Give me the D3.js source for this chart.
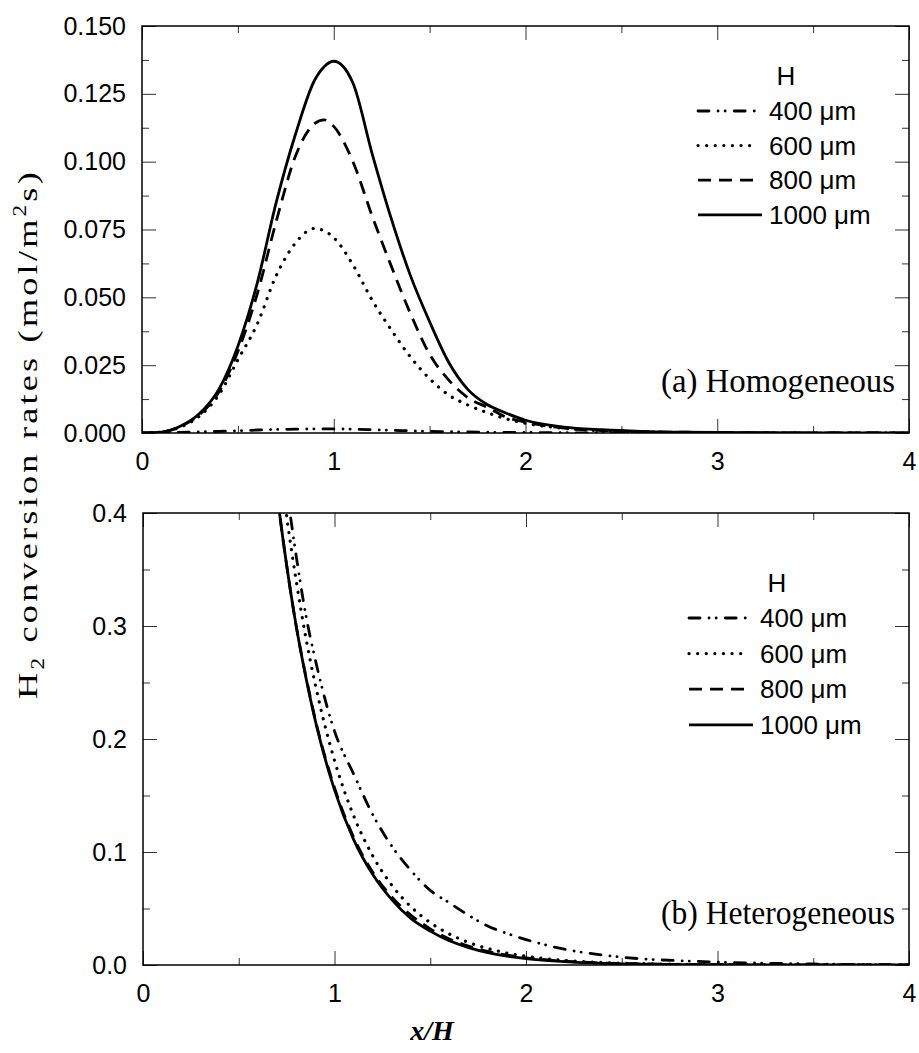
<!DOCTYPE html>
<html>
<head>
<meta charset="utf-8">
<script src="https://cdn.jsdelivr.net/npm/d3@7"></script>
<style>
  body { margin: 0; background: #fff; }
  svg { display: block; }
  .tick text { font-family: "Liberation Sans", Arial, sans-serif; font-size: 25px; fill: #000; }
  .tick line { stroke: #333; stroke-width: 1; }
  .domain { display: none; }
</style>
</head>
<body>
<svg id="chart" width="919" height="1053"></svg>
<script>
// sizes H (um) and their line styles
var sizes = ["400", "600", "800", "1000"];

// (a) homogeneous
var xTop = [0, 0.1, 0.2, 0.3, 0.4, 0.5, 0.6, 0.7, 0.8, 0.9, 0.95, 1.0, 1.1, 1.2, 1.3, 1.4, 1.5, 1.6, 1.7, 1.8, 1.9, 2.0, 2.2, 2.4, 2.6, 2.8, 3.0, 3.5, 4.0];
var homo400  = [0, 0.00005, 0.0002, 0.0004, 0.0006, 0.0008, 0.0011, 0.0013, 0.0014, 0.0015, 0.0015, 0.0015, 0.0014, 0.0012, 0.0010, 0.0008, 0.0006, 0.0005, 0.0004, 0.0003, 0.0002, 0.0002, 0.0001, 0.00005, 0, 0, 0, 0, 0];
var homo600  = [0, 0.0003, 0.0022, 0.0062, 0.014, 0.027, 0.040, 0.058, 0.070, 0.0754, 0.0745, 0.072, 0.062, 0.049, 0.038, 0.028, 0.020, 0.0140, 0.0103, 0.0075, 0.0052, 0.0036, 0.0017, 0.0008, 0.0004, 0.0002, 0.0001, 0, 0];
var homo800  = [0, 0.0003, 0.0024, 0.0068, 0.015, 0.030, 0.051, 0.078, 0.102, 0.114, 0.1154, 0.113, 0.100, 0.080, 0.0615, 0.044, 0.029, 0.0195, 0.013, 0.0095, 0.0058, 0.0040, 0.0018, 0.0009, 0.0005, 0.0003, 0.0002, 0, 0];
var homo1000 = [0, 0.0003, 0.0025, 0.0072, 0.016, 0.032, 0.055, 0.085, 0.110, 0.130, 0.135, 0.137, 0.129, 0.103, 0.079, 0.058, 0.041, 0.026, 0.016, 0.0105, 0.0073, 0.0047, 0.0022, 0.0012, 0.0006, 0.0003, 0.0002, 0.00005, 0];

// (b) heterogeneous
var xBot = [0.6, 0.65, 0.7, 0.75, 0.8, 0.85, 0.9, 1.0, 1.1, 1.2, 1.3, 1.4, 1.5, 1.6, 1.7, 1.8, 1.9, 2.0, 2.2, 2.4, 2.6, 2.8, 3.0, 3.5, 4.0];
var hetero400  = [0.65, 0.54, 0.47, 0.42, 0.362, 0.310, 0.270, 0.207, 0.169, 0.133, 0.105, 0.0835, 0.066, 0.055, 0.044, 0.0345, 0.028, 0.0225, 0.014, 0.0088, 0.0055, 0.0038, 0.0026, 0.0009, 0.0003];
var hetero600  = [0.64, 0.545, 0.464, 0.397, 0.34, 0.290, 0.248, 0.181, 0.132, 0.0965, 0.0704, 0.0514, 0.0375, 0.0274, 0.020, 0.0146, 0.0106, 0.0078, 0.0041, 0.0022, 0.0012, 0.0006, 0.0003, 0.0001, 0];
var hetero800  = [0.58, 0.49, 0.417, 0.354, 0.30, 0.256, 0.217, 0.157, 0.113, 0.082, 0.060, 0.044, 0.032, 0.023, 0.0168, 0.012, 0.0088, 0.0064, 0.0034, 0.0018, 0.0010, 0.0005, 0.0003, 0.0001, 0];
var hetero1000 = [0.58, 0.49, 0.417, 0.354, 0.30, 0.255, 0.216, 0.155, 0.111, 0.080, 0.0576, 0.041, 0.030, 0.0214, 0.0154, 0.011, 0.0079, 0.0057, 0.0030, 0.0015, 0.0008, 0.0004, 0.0002, 0.00004, 0];

var xTicks = [0, 1, 2, 3, 4];
var xMinor = [0.5, 1.5, 2.5, 3.5];
var yTopTicks = [0, 0.025, 0.05, 0.075, 0.1, 0.125, 0.15];
var yTopMinor = [0.0125, 0.0375, 0.0625, 0.0875, 0.1125, 0.1375];
var yBotTicks = [0, 0.1, 0.2, 0.3, 0.4];
var yBotMinor = [0.05, 0.15, 0.25, 0.35];

var styles = {
    "400":  { dash: "11,9,0.1,7,0.1,9", cap: "round", w: 2.8 },
    "600":  { dash: "0.1,8.5", cap: "round", w: 3.2 },
    "800":  { dash: "13,8", cap: "butt", w: 2.8 },
    "1000": { dash: null, cap: "butt", w: 2.8 }
};

var svg = d3.select("#chart");

function panel(opts) {
    var x = d3.scaleLinear().domain([0, 4]).range([opts.left, opts.right]);
    var y = d3.scaleLinear().domain([0, opts.ymax]).range([opts.bottom, opts.top]);
    var g = svg.append("g");

    g.append("clipPath").attr("id", opts.id)
        .append("rect")
        .attr("x", opts.left).attr("y", opts.top)
        .attr("width", opts.right - opts.left).attr("height", opts.bottom - opts.top);

    // major + minor ticks on all four sides, pointing inward
    g.append("g").attr("transform", "translate(0," + opts.bottom + ")")
        .call(d3.axisBottom(x).tickValues(xTicks).tickSize(-14).tickPadding(19).tickFormat(d3.format("d")));
    g.append("g").attr("transform", "translate(0," + opts.bottom + ")")
        .call(d3.axisBottom(x).tickValues(xMinor).tickSize(-7).tickFormat(""));
    g.append("g").attr("transform", "translate(0," + opts.top + ")")
        .call(d3.axisTop(x).tickValues(xTicks).tickSize(-14).tickFormat(""));
    g.append("g").attr("transform", "translate(0," + opts.top + ")")
        .call(d3.axisTop(x).tickValues(xMinor).tickSize(-7).tickFormat(""));
    g.append("g").attr("transform", "translate(" + opts.left + ",0)")
        .call(d3.axisLeft(y).tickValues(opts.yTicks).tickSize(-14).tickPadding(16).tickFormat(d3.format(opts.fmt)));
    g.append("g").attr("transform", "translate(" + opts.left + ",0)")
        .call(d3.axisLeft(y).tickValues(opts.yMinor).tickSize(-7).tickFormat(""));
    g.append("g").attr("transform", "translate(" + opts.right + ",0)")
        .call(d3.axisRight(y).tickValues(opts.yTicks).tickSize(-14).tickFormat(""));
    g.append("g").attr("transform", "translate(" + opts.right + ",0)")
        .call(d3.axisRight(y).tickValues(opts.yMinor).tickSize(-7).tickFormat(""));

    g.selectAll(".tick text").filter(function() { return this.textContent === ""; }).remove();

    var line = d3.line()
        .x(function(d) { return x(d[0]); })
        .y(function(d) { return y(d[1]); })
        .curve(d3.curveMonotoneX);

    var lines = g.append("g").attr("clip-path", "url(#" + opts.id + ")");
    sizes.forEach(function(s) {
        var pts = opts.xs.map(function(v, i) { return [v, opts.series[s][i]]; });
        var st = styles[s];
        lines.append("path")
            .attr("d", line(pts))
            .attr("fill", "none")
            .attr("stroke", "#000")
            .attr("stroke-width", st.w)
            .attr("stroke-linecap", st.cap)
            .attr("stroke-dasharray", st.dash);
    });

    // frame
    g.append("rect")
        .attr("x", opts.left).attr("y", opts.top)
        .attr("width", opts.right - opts.left).attr("height", opts.bottom - opts.top)
        .attr("fill", "none").attr("stroke", "#000").attr("stroke-width", 1.5);

    // legend
    var lg = g.append("g");
    lg.append("text")
        .attr("x", opts.legX + 88).attr("y", opts.legY - 26)
        .attr("text-anchor", "middle")
        .style("font-family", "Liberation Sans, Arial, sans-serif").style("font-size", "26px")
        .text("H");
    sizes.forEach(function(s, i) {
        var st = styles[s];
        var yy = opts.legY + i * opts.legStep;
        lg.append("line")
            .attr("x1", opts.legX).attr("x2", opts.legX + (s === "1000" ? 64 : 60))
            .attr("y1", yy).attr("y2", yy)
            .attr("stroke", "#000").attr("stroke-width", st.w)
            .attr("stroke-linecap", st.cap).attr("stroke-dasharray", st.dash);
        lg.append("text")
            .attr("x", opts.legX + 71).attr("y", yy + 9)
            .style("font-family", "Liberation Sans, Arial, sans-serif").style("font-size", "26px")
            .text(s + " \u03bcm");
    });

    g.append("text")
        .attr("x", opts.right - 14).attr("y", opts.bottom - 41)
        .attr("text-anchor", "end")
        .attr("textLength", 234).attr("lengthAdjust", "spacingAndGlyphs")
        .style("font-family", "Liberation Serif, Times New Roman, serif").style("font-size", "33px")
        .text(opts.note);
}

panel({
    id: "clipTop", left: 142, right: 909, top: 26, bottom: 433, ymax: 0.15,
    yTicks: yTopTicks, yMinor: yTopMinor, fmt: ".3f",
    xs: xTop, series: { "400": homo400, "600": homo600, "800": homo800, "1000": homo1000 },
    legX: 698, legY: 111, legStep: 34.6, note: "(a) Homogeneous"
});

panel({
    id: "clipBot", left: 143, right: 909, top: 513, bottom: 965, ymax: 0.4,
    yTicks: yBotTicks, yMinor: yBotMinor, fmt: ".1f",
    xs: xBot, series: { "400": hetero400, "600": hetero600, "800": hetero800, "1000": hetero1000 },
    legX: 689, legY: 618, legStep: 35.6, note: "(b) Heterogeneous"
});

// y label
var yl = svg.append("text")
    .attr("transform", "translate(37,434) rotate(-90)")
    .attr("text-anchor", "middle")
    .attr("textLength", 530).attr("lengthAdjust", "spacingAndGlyphs")
    .style("letter-spacing", "2.5px")
    .style("font-family", "Liberation Serif, Times New Roman, serif").style("font-size", "28px");
yl.append("tspan").text("H");
yl.append("tspan").attr("dy", 7).style("font-size", "18px").text("2");
yl.append("tspan").attr("dy", -7).text(" conversion rates (mol/m");
yl.append("tspan").attr("dy", -11).style("font-size", "18px").text("2");
yl.append("tspan").attr("dy", 11).text("s)");

// x label
svg.append("text")
    .attr("x", 432).attr("y", 1040)
    .attr("text-anchor", "middle")
    .style("font-family", "Liberation Serif, Times New Roman, serif").style("font-size", "28px")
    .style("font-weight", "bold").style("font-style", "italic")
    .text("x/H");
</script>
</body>
</html>
